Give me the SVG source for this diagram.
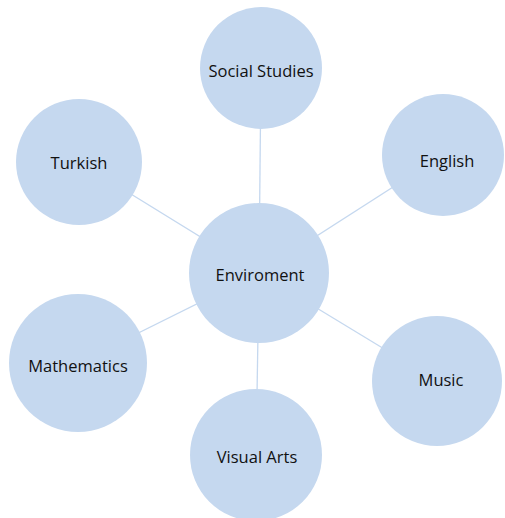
<svg xmlns="http://www.w3.org/2000/svg" width="505" height="518" viewBox="0 0 505 518">
<style>
.n{fill:#c5d8ef;}
.t{font-family:"Open Sans","Noto Sans",sans-serif;font-size:16.5px;fill:#111111;text-anchor:middle;dominant-baseline:central;}
.c{stroke:#c5d8ef;stroke-width:1.3;fill:none;}
</style>
<rect width="505" height="518" fill="#ffffff"/>
<g id="connectors">
<line class="c" x1="259" y1="273" x2="261" y2="68"/>
<line class="c" x1="259" y1="273" x2="443" y2="155"/>
<line class="c" x1="259" y1="273" x2="79" y2="162"/>
<line class="c" x1="259" y1="273" x2="78" y2="363"/>
<line class="c" x1="259" y1="273" x2="256" y2="455"/>
<line class="c" x1="259" y1="273" x2="437" y2="381"/>
</g>
<g id="social-studies"><circle class="n" cx="261" cy="68" r="61"/><text class="t" x="261" y="70">Social Studies</text></g>
<g id="english"><circle class="n" cx="443" cy="155" r="61"/><text class="t" x="447" y="160">English</text></g>
<g id="turkish"><circle class="n" cx="79" cy="162" r="63"/><text class="t" x="79" y="162">Turkish</text></g>
<g id="enviroment"><circle class="n" cx="259" cy="273" r="70"/><text class="t" x="260" y="274">Enviroment</text></g>
<g id="mathematics"><circle class="n" cx="78" cy="363" r="69"/><text class="t" x="78" y="365">Mathematics</text></g>
<g id="visual-arts"><circle class="n" cx="256" cy="455" r="66"/><text class="t" x="257" y="456">Visual Arts</text></g>
<g id="music"><circle class="n" cx="437" cy="381" r="65"/><text class="t" x="441" y="379">Music</text></g>
</svg>
